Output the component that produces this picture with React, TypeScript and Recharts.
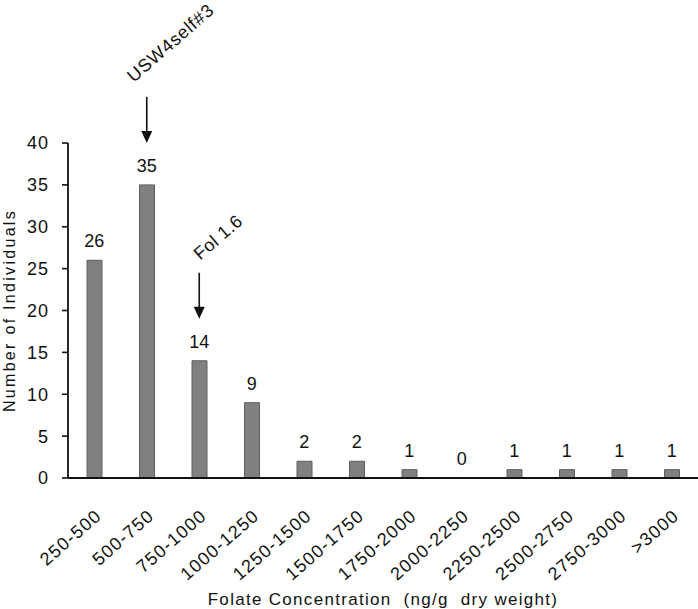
import { Bar, ComposedChart, LabelList, Line, XAxis, YAxis } from "recharts";

const ranges = [
  "250-500",
  "500-750",
  "750-1000",
  "1000-1250",
  "1250-1500",
  "1500-1750",
  "1750-2000",
  "2000-2250",
  "2250-2500",
  "2500-2750",
  "2750-3000",
  ">3000"
];
const counts = [26, 35, 14, 9, 2, 2, 1, 0, 1, 1, 1, 1];
const yTicks = [0, 5, 10, 15, 20, 25, 30, 35, 40];
const callouts: Record<number, string> = { 1: "USW4self#3", 2: "Fol 1.6" };

const data = ranges.map((range, i) => ({ range, count: counts[i] }));

const font = "'Liberation Sans', Arial, sans-serif";
const ink = "#111";
const tilt = -41;

function CategoryTick(props: any) {
  const { x, y, payload } = props;
  const ax = x;
  const ay = y + 30;
  return (
    <text
      x={ax}
      y={ay}
      transform={`rotate(${tilt}, ${ax}, ${ay})`}
      textAnchor="end"
      dominantBaseline="hanging"
      fontSize={18}
      letterSpacing={1.2}
      fill={ink}
      fontFamily={font}
    >
      {payload.value}
    </text>
  );
}

// value above each bar, plus the arrow + rotated note for the two marked lines
function ValueLabel(props: any) {
  const { x, y, value, index } = props;
  const note = callouts[index];
  const tx = index === 1 ? x - 13 : x + 1;
  const ty = index === 1 ? y - 102 : y - 100;
  return (
    <g>
      <text x={x} y={y - 13} textAnchor="middle" fontSize={18} fill={ink} fontFamily={font}>
        {value}
      </text>
      {note && (
        <g>
          <line x1={x} y1={y - 88} x2={x} y2={y - 53} stroke={ink} strokeWidth={1.6} />
          <polygon points={`${x - 5.5},${y - 54} ${x + 5.5},${y - 54} ${x},${y - 42}`} fill={ink} />
          <text
            x={tx}
            y={ty}
            transform={`rotate(${tilt}, ${tx}, ${ty})`}
            fontSize={18}
            letterSpacing={index === 1 ? 0.8 : 0.4}
            fill={ink}
            fontFamily={font}
          >
            {note}
          </text>
        </g>
      )}
    </g>
  );
}

export default function App() {
  return (
    <div style={{ position: "absolute", left: 0, top: 0, background: "#fff" }}>
      <ComposedChart
        width={698}
        height={609}
        data={data}
        margin={{ top: 143, right: 0, left: 0, bottom: 0 }}
        barCategoryGap={0}
      >
        <XAxis
          dataKey="range"
          height={131}
          interval={0}
          tickLine={false}
          tickSize={0}
          tickMargin={0}
          axisLine={{ stroke: ink, strokeWidth: 1.8 }}
          tick={<CategoryTick />}
          label={{
            value: "Folate Concentration\u00A0 (ng/g\u00A0 dry weight)",
            position: "insideBottom",
            offset: 4,
            fontSize: 17,
            letterSpacing: 1.3,
            fill: ink,
            fontFamily: font
          }}
        />
        <YAxis
          width={68}
          domain={[0, 40]}
          ticks={yTicks}
          interval={0}
          tickSize={6}
          tickMargin={13}
          axisLine={{ stroke: ink, strokeWidth: 1.8 }}
          tickLine={{ stroke: ink, strokeWidth: 1.6 }}
          tick={{ fontSize: 18, letterSpacing: 1, fill: ink, fontFamily: font }}
          label={{
            value: "Number of Individuals",
            angle: -90,
            position: "insideLeft",
            offset: 9,
            style: { textAnchor: "middle" },
            fontSize: 16,
            letterSpacing: 2.3,
            fill: ink,
            fontFamily: font
          }}
        />
        <Bar
          dataKey="count"
          fill="#808080"
          stroke="#5e5e5e"
          strokeWidth={1}
          barSize={15}
          isAnimationActive={false}
        />
        <Line
          dataKey="count"
          stroke="none"
          dot={false}
          activeDot={false}
          legendType="none"
          isAnimationActive={false}
        >
          <LabelList dataKey="count" content={<ValueLabel />} />
        </Line>
      </ComposedChart>
    </div>
  );
}
